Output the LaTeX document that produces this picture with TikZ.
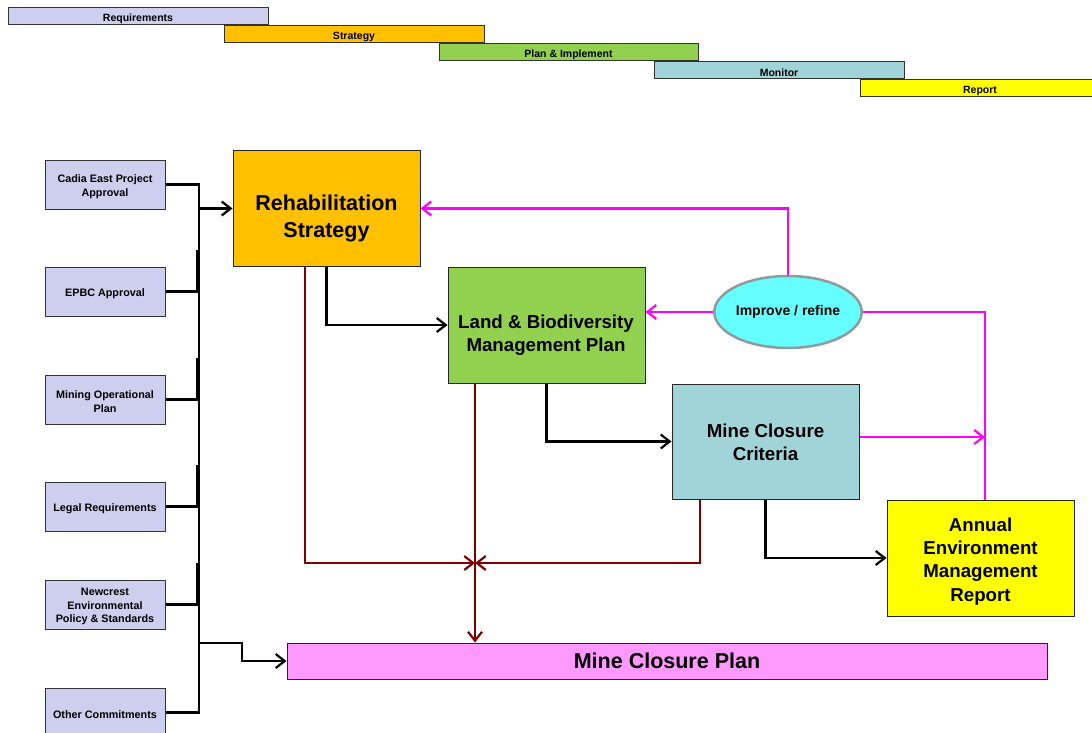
\documentclass[tikz,border=0pt]{standalone}
\usepackage{fontspec}
\setmainfont{Liberation Sans}
\usetikzlibrary{arrows.meta,shapes.geometric,calc}
\definecolor{lav}{RGB}{206,206,238}
\definecolor{orng}{RGB}{255,192,0}
\definecolor{grn}{RGB}{146,208,80}
\definecolor{teal}{RGB}{160,212,216}
\definecolor{yel}{RGB}{255,255,0}
\definecolor{pnk}{RGB}{255,153,255}
\definecolor{cyn}{RGB}{102,255,255}
\definecolor{mag}{RGB}{255,0,255}
\definecolor{dred}{RGB}{128,0,0}
\definecolor{egrey}{RGB}{140,156,156}
\begin{document}
\begin{tikzpicture}[x=1pt,y=-1pt,
  >={Straight Barb[length=9pt,width=14pt]},
  bar/.style={draw=black!80, line width=1pt, minimum height=17pt, inner sep=0pt},
  bartext/.style={inner sep=0pt, font=\bfseries\fontsize{10.5}{12}\selectfont},
  reqbox/.style={draw=black!80, line width=1pt, fill=lav, minimum width=120pt, minimum height=49pt, inner sep=0pt},
  reqtext/.style={inner sep=0pt, align=center, font=\bfseries\fontsize{10.8}{13.5}\selectfont},
  bigbox/.style={draw=black!85, line width=1pt, inner sep=0pt},
  bigtext/.style={inner sep=0pt, align=center, font=\bfseries\fontsize{18.7}{23.3}\selectfont},
  blk/.style={draw=black, line width=2.2pt},
  magl/.style={draw=mag, line width=2.2pt},
  redl/.style={draw=dred, line width=2.2pt}
]
\useasboundingbox (0,0) rectangle (1092,733);

% top bars
\node[bar, fill=lav,  minimum width=260pt] (breq)  at (138,16.5) {};
\node[bar, fill=orng, minimum width=260pt] (bstr)  at (354,34.5) {};
\node[bar, fill=grn,  minimum width=259pt] (bplan) at (568.5,52.5) {};
\node[bar, fill=teal, minimum width=250pt] (bmon)  at (779,70.5) {};
\node[bar, fill=yel,  minimum width=240pt] (brep)  at (980,88.5) {};
\node[bartext] (breqT)  at ([yshift=-2.5pt]breq.center) {Requirements};
\node[bartext] (bstrT)  at ([yshift=-2.5pt]bstr.center) {Strategy};
\node[bartext] (bplanT) at ([yshift=-2.5pt]bplan.center) {Plan \& Implement};
\node[bartext] (bmonT)  at ([yshift=-2.5pt]bmon.center) {Monitor};
\node[bartext] (brepT)  at ([yshift=-2pt]brep.center) {Report};

% requirement boxes
\node[reqbox] (cadia)    at (105,184.5) {};
\node[reqbox] (epbc)     at (105,291.5) {};
\node[reqbox] (mining)   at (105,399.5) {};
\node[reqbox] (legal)    at (105,506.5) {};
\node[reqbox] (newcrest) at (105,604.5) {};
\node[reqbox] (other)    at (105,712.5) {};
\node[reqtext] (cadiaT)    at ([yshift=-2pt]cadia.center) {Cadia East Project\\Approval};
\node[reqtext] (epbcT)     at ([yshift=-2pt]epbc.center) {EPBC Approval};
\node[reqtext] (miningT)   at ([yshift=-2pt]mining.center) {Mining Operational\\Plan};
\node[reqtext] (legalT)    at ([yshift=-2pt]legal.center) {Legal Requirements};
\node[reqtext] (newcrestT) at ([yshift=-2pt]newcrest.center) {Newcrest\\Environmental\\Policy \& Standards};
\node[reqtext] (otherT)    at ([yshift=-2pt]other.center) {Other Commitments};

% main boxes
\node[bigbox, fill=orng, minimum width=187pt, minimum height=115pt] (rehab) at (326.5,208.5) {};
\node[bigtext, font=\bfseries\fontsize{21.5}{27}\selectfont] (rehabT) at (326.5,218.5) {Rehabilitation\\Strategy};
\node[bigbox, fill=grn, minimum width=197pt, minimum height=116pt] (land) at (546.5,325) {};
\node[bigtext] (landT) at (546,335.5) {Land \& Biodiversity\\Management Plan};
\node[bigbox, fill=teal, minimum width=187pt, minimum height=115pt] (crit) at (765.5,441.5) {};
\node[bigtext] (critT) at (765.5,442.5) {Mine Closure\\Criteria};
\node[bigbox, fill=yel, minimum width=187pt, minimum height=116pt] (annual) at (980.5,558) {};
\node[bigtext] (annualT) at (980.5,561.5) {Annual\\Environment\\Management\\Report};
\node[bigbox, fill=pnk, minimum width=760pt, minimum height=36pt] (closure) at (667,661) {};
\node[bigtext, font=\bfseries\fontsize{21.5}{27}\selectfont] (closureT) at (667,661) {Mine Closure Plan};
\node[ellipse, draw=egrey, line width=2.5pt, fill=cyn, minimum width=144pt, minimum height=72pt,
      inner sep=0pt, font=\bfseries\fontsize{14}{17}\selectfont] (imp) at (788,312) {Improve / refine};

% bracket of requirements
\coordinate (trBot) at (199,712.5);
\coordinate (br) at (197,0);
\draw[blk] (cadia.east) -| (trBot) -- (other.east);
\foreach \n in {epbc,mining,legal,newcrest}{
  \draw[blk] (\n.east) -- (\n.east -| br) -- ++(0,-42);
}
\coordinate (j1) at (199,208.5);
\draw[blk,->] (j1) -- (rehab.west);
\coordinate (j2) at (199,643);
\coordinate (j2b) at (242,643);
\draw[blk,->] (j2) -- (j2b) |- (closure.west);

% black flow
\draw[blk,->] (rehab.south) |- (land.west);
\draw[blk,->] (land.south) |- (crit.west);
\draw[blk,->] (crit.south) |- (annual.west);

% dark red flow
\coordinate (J) at (475,563);
\draw[redl,->] ([xshift=-21.5pt]rehab.south) |- (J);
\draw[redl,->] ([xshift=-65.5pt]crit.south) |- (J);
\draw[redl,->] ([xshift=-71.5pt]land.south) -- (J |- closure.north);

% magenta feedback
\coordinate (vt) at (985,500);
\draw[magl,->] (imp.north) |- (rehab.east);
\draw[magl,->] (imp.west) -- (imp.west -| land.east);
\draw[magl] (vt) |- (imp.east);
\draw[magl,->] ([yshift=4.5pt]crit.east) -- ([yshift=4.5pt]crit.east -| vt);
\end{tikzpicture}
\end{document}
